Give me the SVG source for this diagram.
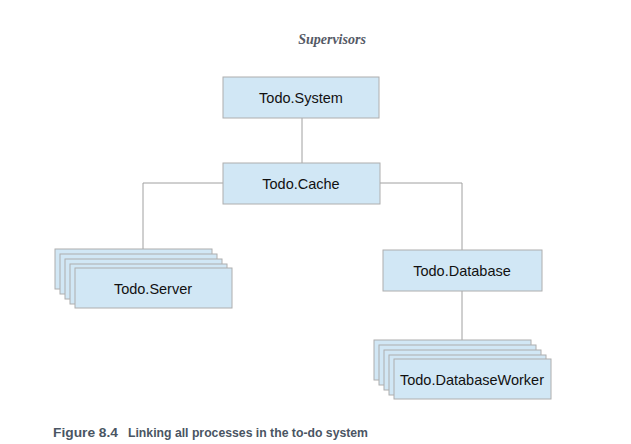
<svg xmlns="http://www.w3.org/2000/svg" width="631" height="444" viewBox="0 0 631 444">
<style>
.box{fill:#d1e7f5;stroke:#aeaeae;stroke-width:1}
.lbl{font-family:"Liberation Sans",Arial,sans-serif;font-size:14.5px;fill:#111;text-anchor:middle}
.conn{stroke:#a0a0a0;stroke-width:1;fill:none}
</style>
<rect width="631" height="444" fill="#fff"/>
<text x="332" y="44" font-family="Liberation Serif,serif" font-style="italic" font-weight="bold" font-size="14" fill="#555a66" text-anchor="middle">Supervisors</text>
<g id="connectors">
<path class="conn" d="M302 118V163"/>
<path class="conn" d="M223 183H143V249"/>
<path class="conn" d="M380 183H462V250"/>
<path class="conn" d="M462 291V340"/>
</g>
<g id="system"><rect class="box" x="223" y="77" width="156" height="41"/><text class="lbl" x="301" y="103">Todo.System</text></g>
<g id="cache"><rect class="box" x="223" y="163" width="157" height="41"/><text class="lbl" x="301" y="189">Todo.Cache</text></g>
<g id="server">
<rect class="box" x="55" y="249" width="157" height="40"/>
<rect class="box" x="60" y="254" width="157" height="40"/>
<rect class="box" x="65" y="259" width="157" height="40"/>
<rect class="box" x="70" y="264" width="157" height="40"/>
<rect class="box" x="75" y="268" width="157" height="40"/>
<text class="lbl" x="153" y="294">Todo.Server</text>
</g>
<g id="database"><rect class="box" x="383" y="250" width="159" height="41"/><text class="lbl" x="462" y="276">Todo.Database</text></g>
<g id="worker">
<rect class="box" x="374" y="340" width="157" height="40"/>
<rect class="box" x="379" y="345" width="157" height="40"/>
<rect class="box" x="384" y="350" width="157" height="40"/>
<rect class="box" x="389" y="355" width="157" height="40"/>
<rect class="box" x="394" y="359" width="157" height="40"/>
<text class="lbl" x="472" y="385">Todo.DatabaseWorker</text>
</g>
<g font-family="Liberation Sans,Arial,sans-serif" font-weight="bold" font-size="12.5" fill="#4a5563">
<text x="53" y="437" textLength="65" lengthAdjust="spacingAndGlyphs">Figure 8.4</text>
<text x="128" y="437" textLength="240" lengthAdjust="spacingAndGlyphs">Linking all processes in the to-do system</text>
</g>
</svg>
